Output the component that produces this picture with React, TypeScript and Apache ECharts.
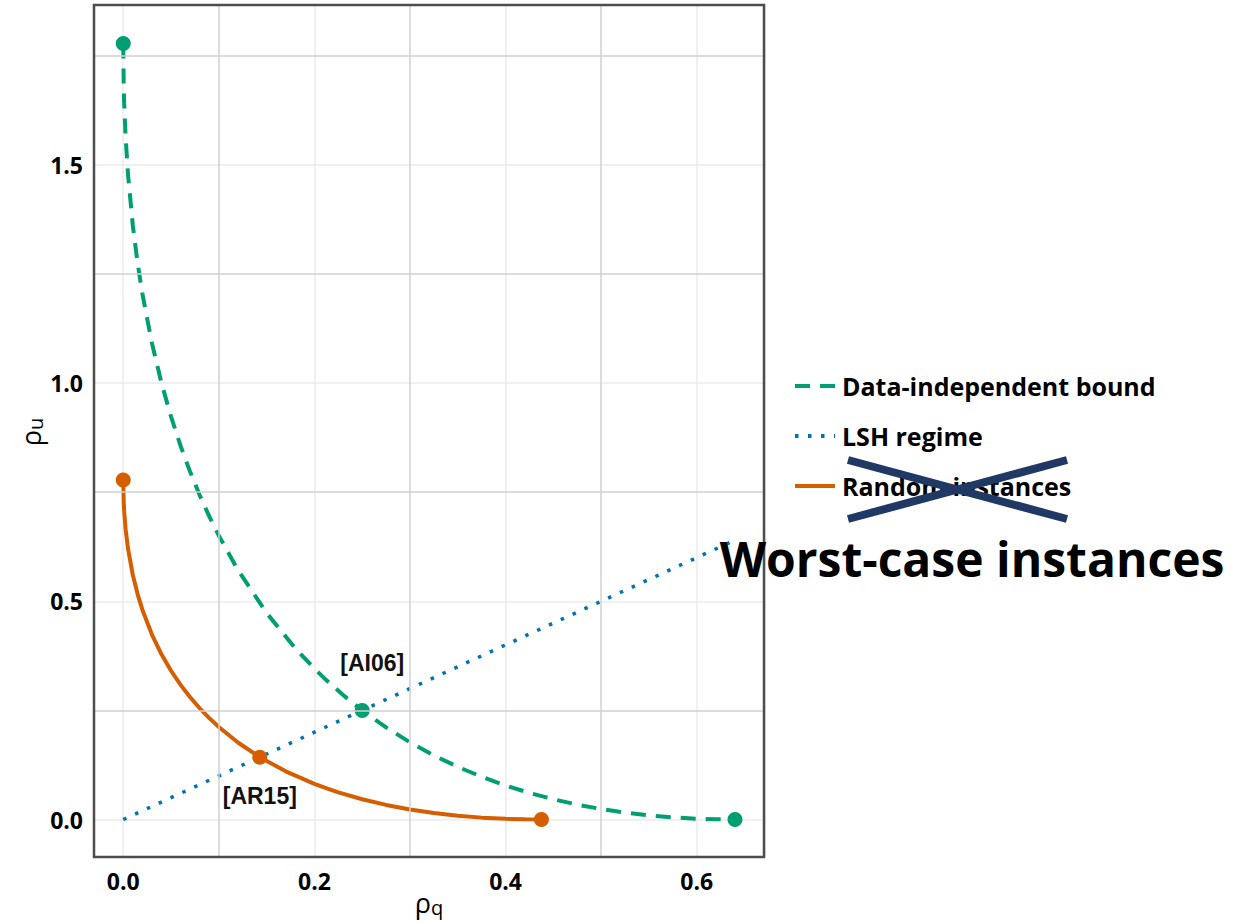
import React, { useEffect, useRef } from "react";
import * as echarts from "echarts";

// Data-independent bound (rho_q, rho_u)
const dataIndepQ = [0, 0.0005, 0.001, 0.0025, 0.005, 0.01, 0.015, 0.02, 0.03, 0.04, 0.05, 0.06, 0.07, 0.08, 0.09, 0.1, 0.12, 0.15, 0.18, 0.2, 0.21, 0.23, 0.25, 0.275, 0.3, 0.325, 0.35, 0.375, 0.4, 0.425, 0.45, 0.475, 0.5, 0.525, 0.55, 0.575, 0.6, 0.62, 0.64];
const dataIndepU = [1.7778, 1.6798, 1.64, 1.5625, 1.4774, 1.3611, 1.2751, 1.2048, 1.0913, 1.0, 0.9229, 0.8558, 0.7963, 0.7429, 0.6944, 0.6501, 0.5715, 0.4731, 0.3922, 0.3457, 0.3244, 0.2852, 0.25, 0.211, 0.1768, 0.1468, 0.1206, 0.0978, 0.078, 0.0609, 0.0464, 0.0341, 0.024, 0.0158, 0.0095, 0.0048, 0.0018, 0.0004, 0];

// Random instances (rho_q, rho_u)
const randomQ = [0, 0.0005, 0.001, 0.0025, 0.005, 0.01, 0.015, 0.02, 0.03, 0.04, 0.05, 0.06, 0.07, 0.08, 0.09, 0.1, 0.12, 0.142857, 0.17, 0.2, 0.21, 0.225, 0.25, 0.275, 0.3, 0.325, 0.35, 0.375, 0.4, 0.42, 0.4375];
const randomU = [0.7778, 0.7261, 0.7052, 0.6646, 0.6204, 0.5604, 0.5164, 0.4807, 0.4238, 0.3785, 0.3408, 0.3084, 0.28, 0.2548, 0.2322, 0.2119, 0.1764, 0.142857, 0.1103, 0.0816, 0.0734, 0.0622, 0.0463, 0.0334, 0.023, 0.0148, 0.0087, 0.0043, 0.0015, 0.0003, 0];

// LSH regime (rho_q = rho_u)
const lshQ = [0, 0.64];
const lshU = [0, 0.64];

// Highlighted points
const dataIndepPoints = [[0, 1.7778], [0.25, 0.25], [0.64, 0]];
const randomPoints = [[0, 0.7778], [0.142857, 0.142857], [0.4375, 0]];
const dataIndepPointLabels = ["", "[AI06]", ""];
const randomPointLabels = ["", "[AR15]", ""];

const seriesNames = ["Data-independent bound", "LSH regime", "Random instances"];

const xTicks = [0, 0.2, 0.4, 0.6];
const yTicks = [0, 0.5, 1.0, 1.5];
const xMinorGrid = [0.1, 0.3, 0.5];
const yMinorGrid = [0.25, 0.75, 1.25, 1.75];

const GREEN = "#009E73";
const BLUE = "#0072B2";
const ORANGE = "#D55E00";

const isTick = (v: number, ticks: number[]) => ticks.some((t) => Math.abs(t - v) < 1e-6);

export default function App() {
  const ref = useRef<HTMLDivElement>(null);

  useEffect(() => {
    document.body.style.margin = "0";
    if (!ref.current) return;
    const chart = echarts.init(ref.current, null, { renderer: "svg" });

    const zip = (a: number[], b: number[]) => a.map((v, i) => [v, b[i]]);

    const labelStyle = {
      show: true,
      fontFamily: "Liberation Sans",
      fontWeight: "bold" as const,
      fontSize: 23,
      color: "#111",
    };

    const titleRich = {
      a: { fontFamily: "Open Sans", fontSize: 27, color: "#333", lineHeight: 30, verticalAlign: "middle" },
      b: { fontFamily: "Open Sans", fontSize: 20, color: "#333", lineHeight: 30, verticalAlign: "bottom" },
    };

    const option: any = {
      animation: false,
      backgroundColor: "#ffffff",
      grid: {
        left: 94,
        right: 479,
        top: 5,
        bottom: 66,
        show: false,
      },
      xAxis: {
        type: "value",
        min: -0.0306,
        max: 0.6714,
        splitNumber: 4,
        axisLine: { show: false },
        axisTick: { show: false },
        axisLabel: {
          margin: 12,
          fontFamily: "Open Sans",
          fontWeight: "bold",
          fontSize: 23,
          color: "#000",
          formatter: (v: number) => (isTick(v, xTicks) ? v.toFixed(1) : ""),
        },
        splitLine: { show: true, lineStyle: { color: "#ebebeb", width: 1.5 } },
      },
      yAxis: {
        type: "value",
        min: -0.0859,
        max: 1.866,
        splitNumber: 4,
        axisLine: { show: false },
        axisTick: { show: false },
        axisLabel: {
          margin: 11,
          fontFamily: "Open Sans",
          fontWeight: "bold",
          fontSize: 23,
          color: "#000",
          formatter: (v: number) => (isTick(v, yTicks) ? v.toFixed(1) : ""),
        },
        splitLine: { show: true, lineStyle: { color: "#ebebeb", width: 1.5 } },
      },
      legend: {
        orient: "vertical",
        left: 788,
        top: 368,
        itemWidth: 40,
        itemHeight: 14,
        itemGap: 24,
        data: seriesNames,
        itemStyle: { opacity: 0 },
        lineStyle: { width: 4 },
        textStyle: {
          fontFamily: "Open Sans",
          fontWeight: "bold",
          fontSize: 25,
          lineHeight: 26,
          color: "#000",
          padding: [0, 0, 0, 2],
        },
        selectedMode: false,
      },
      series: [
        {
          type: "line",
          name: "minor-grid",
          data: [],
          z: 1,
          silent: true,
          markLine: {
            silent: true,
            symbol: ["none", "none"],
            label: { show: false },
            lineStyle: { color: "#d0d0d0", width: 1.5, type: "solid" },
            data: [
              ...xMinorGrid.map((v) => ({ xAxis: v })),
              ...yMinorGrid.map((v) => ({ yAxis: v })),
            ],
          },
        },
        {
          type: "line",
          name: seriesNames[0],
          data: zip(dataIndepQ, dataIndepU),
          symbol: "none",
          lineStyle: { color: GREEN, width: 4, type: [15, 10] },
          itemStyle: { color: GREEN },
          z: 3,
        },
        {
          type: "line",
          name: seriesNames[1],
          data: zip(lshQ, lshU),
          symbol: "none",
          lineStyle: { color: BLUE, width: 3.5, type: [3.5, 9.5] },
          itemStyle: { color: BLUE },
          z: 3,
        },
        {
          type: "line",
          name: seriesNames[2],
          data: zip(randomQ, randomU),
          symbol: "none",
          lineStyle: { color: ORANGE, width: 4, type: "solid" },
          itemStyle: { color: ORANGE },
          z: 3,
        },
        {
          type: "scatter",
          name: "di-points",
          symbolSize: 15,
          itemStyle: { color: GREEN, opacity: 1 },
          z: 4,
          data: dataIndepPoints.map((p, i) => ({
            value: p,
            label: dataIndepPointLabels[i]
              ? { ...labelStyle, formatter: dataIndepPointLabels[i], position: "inside", offset: [10, -47] }
              : { show: false },
          })),
        },
        {
          type: "scatter",
          name: "rnd-points",
          symbolSize: 15,
          itemStyle: { color: ORANGE, opacity: 1 },
          z: 4,
          data: randomPoints.map((p, i) => ({
            value: p,
            label: randomPointLabels[i]
              ? { ...labelStyle, formatter: randomPointLabels[i], position: "inside", offset: [0, 39] }
              : { show: false },
          })),
        },
      ],
      graphic: [
        {
          type: "rect",
          shape: { x: 94, y: 5, width: 670, height: 852 },
          style: { fill: "none", stroke: "#4d4d4d", lineWidth: 2.5 },
          z: 50,
          silent: true,
        },
        {
          type: "text",
          x: 429,
          y: 902,
          style: {
            text: "{a|ρ}{b|q}",
            align: "center",
            verticalAlign: "middle",
            rich: titleRich,
          },
        },
        {
          type: "text",
          x: 30,
          y: 432,
          rotation: Math.PI / 2,
          style: {
            text: "{a|ρ}{b|u}",
            align: "center",
            verticalAlign: "middle",
            rich: titleRich,
          },
        },
        {
          type: "line",
          shape: { x1: 848, y1: 460, x2: 1067, y2: 519 },
          style: { stroke: "#203864", lineWidth: 8 },
          z: 100,
        },
        {
          type: "line",
          shape: { x1: 848, y1: 519, x2: 1067, y2: 460 },
          style: { stroke: "#203864", lineWidth: 8 },
          z: 100,
        },
        {
          type: "text",
          x: 972,
          y: 558,
          z: 101,
          style: {
            text: "Worst-case instances",
            align: "center",
            verticalAlign: "middle",
            fontFamily: "Open Sans",
            fontWeight: "bold",
            fontSize: 48,
            fill: "#000",
          },
        },
      ],
    };

    chart.setOption(option);
    return () => chart.dispose();
  }, []);

  return <div ref={ref} style={{ width: 1244, height: 923 }} />;
}
